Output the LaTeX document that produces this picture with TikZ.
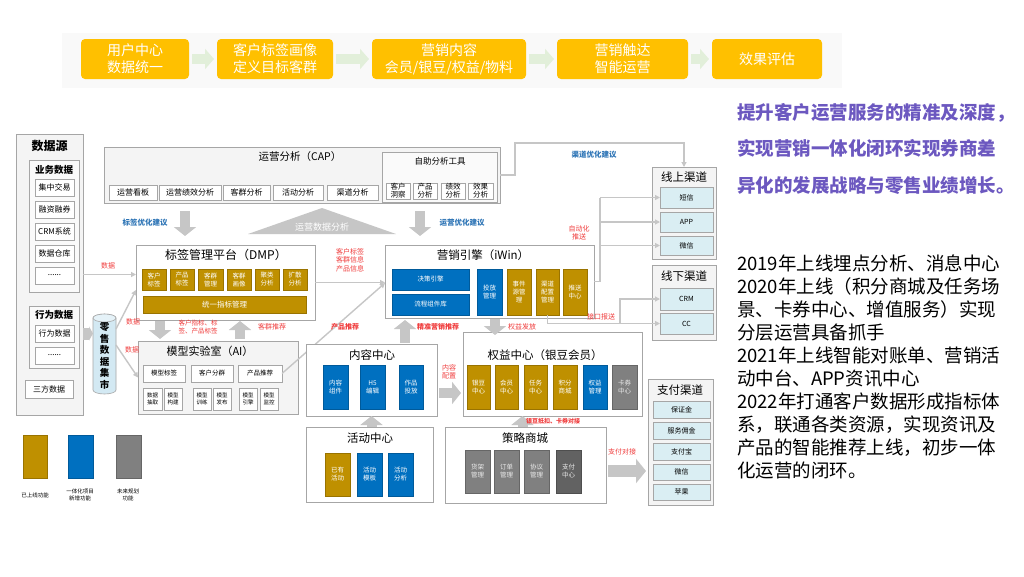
\documentclass[tikz,border=0pt]{standalone}
\usepackage{fontspec}
\setmainfont{Noto Sans CJK SC}
\usetikzlibrary{arrows.meta,calc}
\definecolor{gold}{HTML}{BF9000}
\definecolor{myblue}{HTML}{0070C0}
\definecolor{mygray}{HTML}{808080}
\definecolor{dgray}{HTML}{626262}
\definecolor{chan}{HTML}{DAEEF3}
\definecolor{cylblue}{HTML}{D3E9F3}
\definecolor{bord}{HTML}{A6A6A6}
\definecolor{arr}{HTML}{C6C6C6}
\definecolor{lbred}{HTML}{F03C3C}
\definecolor{lbblue}{HTML}{2E75B6}
\definecolor{purp}{RGB}{108,88,192}
\definecolor{orangebox}{HTML}{FFC000}
\definecolor{lgreen}{HTML}{E2EFDA}
\newcommand\fs[2]{\fontsize{#1}{#2}\selectfont}
\newcommand\mybox[7]{\node[#6,minimum width={(#4-#2)*1pt},minimum height={(#5-#3)*1pt}] (#1) at ({(#2+#4)/2},{(#3+#5)/2}) {#7};}
\begin{document}
\begin{tikzpicture}[x=1pt,y=-1pt,
 every node/.style={inner sep=0pt,outer sep=0pt,align=center},
 pan/.style={draw=bord,fill=white,line width=0.6pt},
 gpan/.style={draw=bord,fill=gray!9,line width=0.6pt},
 sub/.style={draw=bord,fill=white,line width=0.5pt,font=\fs{8}{9.5}},
 goldbox/.style={draw=gold!80!black,fill=gold,text=white,line width=0.4pt,font=\fs{6.5}{8}},
 bluebox/.style={draw=myblue!80!black,fill=myblue,text=white,line width=0.4pt,font=\fs{6.5}{8}},
 graybox/.style={draw=mygray!80!black,fill=mygray,text=white!85!gray,line width=0.4pt,font=\fs{6.5}{8}},
 chanbox/.style={draw=bord,fill=chan,line width=0.5pt,font=\fs{7}{8}},
 topbox/.style={fill=orangebox,rounded corners=4pt,text=white,font=\fs{14}{17}},
 ttl/.style={font=\fs{11.5}{13}},
 rlab/.style={text=lbred,font=\fs{7}{8.5}},
 blab/.style={text=lbblue,font=\fs{7.5}{9}\bfseries},
 ln/.style={draw=arr,line width=1.4pt},
 lna/.style={ln,-{Triangle[length=5pt,width=5pt]}},
 blk/.style={draw=arr,line width=10pt,-{Triangle[length=9pt,width=22pt]}},
 blkS/.style={draw=arr,line width=12pt,-{Triangle[length=4pt,width=14pt]}},
 blkL/.style={draw=arr,line width=12pt,-{Triangle[length=10pt,width=24pt]}},
 toparr/.style={draw=lgreen,line width=10pt,-{Triangle[length=9pt,width=20pt]}},
]
\fill[white] (0,0) rectangle (1024,576);
\useasboundingbox (0,0) rectangle (1024,576);

% ---------- top banner ----------
\fill[gray!5] (62,33) rectangle (842,88);
\mybox{t1}{81}{39}{189}{79}{topbox}{用户中心\\数据统一}
\mybox{t2}{217}{39}{333}{79}{topbox}{客户标签画像\\定义目标客群}
\mybox{t3}{372}{39}{526}{79}{topbox}{营销内容\\会员/银豆/权益/物料}
\mybox{t4}{557}{39}{688}{79}{topbox}{营销触达\\智能运营}
\mybox{t5}{712}{39}{822}{79}{topbox}{效果评估}
\draw[toparr] ([xshift=3pt]t1.east) -- ([xshift=-3pt]t2.west);
\draw[toparr] ([xshift=3pt]t2.east) -- ([xshift=-3pt]t3.west);
\draw[toparr] ([xshift=3pt]t3.east) -- ([xshift=-3pt]t4.west);
\draw[toparr] ([xshift=3pt]t4.east) -- ([xshift=-3pt]t5.west);

% ---------- right text ----------
\node[anchor=base west,font=\fs{18.5}{22}\bfseries,text=purp] (p1) at (737,119) {提升客户运营服务的精准及深度，};
\node[anchor=base west,font=\fs{18.5}{22}\bfseries,text=purp] (p2) at (737,155) {实现营销一体化闭环实现券商差};
\node[anchor=base west,font=\fs{18.5}{22}\bfseries,text=purp] (p3) at (737,192) {异化的发展战略与零售业绩增长。};
\foreach \t [count=\i] in {2019年上线埋点分析、消息中心,2020年上线（积分商城及任务场,景、卡券中心、增值服务）实现,分层运营具备抓手,2021年上线智能对账单、营销活,动中台、APP资讯中心,2022年打通客户数据形成指标体,系，联通各类资源，实现资讯及,产品的智能推荐上线，初步一体,化运营的闭环。}
  \node[anchor=base west,font=\fs{18.5}{22}] (r\i) at (737,{270+(\i-1)*23}) {\t};

% ---------- data sources ----------
\mybox{src}{16}{134}{83}{415}{gpan}{}
\node[font=\fs{12}{14}\bfseries] (srct) at (49.5,146) {数据源};
\mybox{biz}{29}{160}{79}{292}{pan,fill=gray!4}{}
\node[font=\fs{9.5}{11}\bfseries] (bizt) at (54,170) {业务数据};
\mybox{b1}{35}{179}{74}{196}{sub}{集中交易}
\mybox{b2}{35}{201}{74}{218}{sub}{融资融券}
\mybox{b3}{35}{223}{74}{240}{sub}{CRM系统}
\mybox{b4}{35}{245}{74}{262}{sub}{数据仓库}
\mybox{b5}{35}{267}{74}{284}{sub}{......}
\mybox{beh}{29}{306}{79}{368}{pan,fill=gray!4}{}
\node[font=\fs{9.5}{11}\bfseries] (beht) at (54,315) {行为数据};
\mybox{h1}{35}{325}{74}{342}{sub}{行为数据}
\mybox{h2}{35}{347}{74}{364}{sub}{......}
\mybox{b6}{25}{380}{73}{398}{sub}{三方数据}

% cylinder
\path[draw=bord,fill=cylblue,line width=0.6pt] (93,318) -- (93,390) arc[start angle=180,end angle=360,x radius=11.5pt,y radius=4pt] -- (116,318) arc[start angle=0,end angle=180,x radius=11.5pt,y radius=4pt] -- cycle;
\draw[draw=bord,fill=cylblue!60,line width=0.6pt] (104.5,318) ellipse[x radius=11.5pt,y radius=4pt];
\node[minimum width=23pt,minimum height=72pt,font=\fs{9.5}{11.5}\bfseries] (mart) at (104.5,356) {零\\售\\数\\据\\集\\市};

% ---------- CAP ----------
\mybox{cap}{104}{147}{500}{203}{gpan}{}
\node[font=\fs{10.5}{12}] (capt) at (300,157) {运营分析（CAP）};
\mybox{c1}{109}{185}{157}{200}{sub}{运营看板}
\mybox{c2}{159}{185}{221}{200}{sub}{运营绩效分析}
\mybox{c3}{223}{185}{270}{200}{sub}{客群分析}
\mybox{c4}{273}{185}{323}{200}{sub}{活动分析}
\mybox{c5}{327}{185}{378}{200}{sub}{渠道分析}
\mybox{zz}{382}{152}{497}{202}{pan,fill=gray!4}{}
\node[font=\fs{8.5}{10}] (zzt) at (440,161) {自助分析工具};
\mybox{s1}{386}{183}{410}{199}{sub,font=\fs{7.5}{8}}{客户\\洞察}
\mybox{s2}{413}{183}{437}{199}{sub,font=\fs{7.5}{8}}{产品\\分析}
\mybox{s3}{441}{183}{465}{199}{sub,font=\fs{7.5}{8}}{绩效\\分析}
\mybox{s4}{468}{183}{493}{199}{sub,font=\fs{7.5}{8}}{效果\\分析}

% ---------- DMP ----------
\mybox{dmp}{136}{245}{315}{320}{pan}{}
\node[font=\fs{12}{14}] (dmpt) at (226,255) {标签管理平台（DMP）};
\mybox{d1}{142}{269}{166}{290}{goldbox}{客户\\标签}
\mybox{d2}{170}{269}{194}{290}{goldbox}{产品\\标签}
\mybox{d3}{198}{269}{223}{290}{goldbox}{客群\\管理}
\mybox{d4}{227}{269}{251}{290}{goldbox}{客群\\画像}
\mybox{d5}{255}{269}{279}{290}{goldbox}{聚类\\分析}
\mybox{d6}{283}{269}{307}{290}{goldbox}{扩散\\分析}
\mybox{d7}{143}{296}{306}{313}{goldbox,font=\fs{7.5}{9}}{统一指标管理}

% ---------- AI ----------
\mybox{ai}{138}{341}{298}{414}{gpan}{}
\node[font=\fs{11}{13}] (ait) at (210,351) {模型实验室（AI）};
\mybox{a1}{143}{365}{185}{382}{sub,font=\fs{6.5}{8}}{模型标签}
\mybox{a2}{191}{365}{233}{382}{sub,font=\fs{6.5}{8}}{客户分群}
\mybox{a3}{238}{365}{282}{382}{sub,font=\fs{6.5}{8}}{产品推荐}
\mybox{a4}{143}{388}{162}{410}{sub,font=\fs{5.5}{7}}{数据\\抽取}
\mybox{a5}{164}{388}{182}{410}{sub,font=\fs{5.5}{7}}{模型\\构建}
\mybox{a6}{193}{388}{211}{410}{sub,font=\fs{5.5}{7}}{模型\\训练}
\mybox{a7}{213}{388}{231}{410}{sub,font=\fs{5.5}{7}}{模型\\发布}
\mybox{a8}{239}{388}{257}{410}{sub,font=\fs{5.5}{7}}{模型\\引擎}
\mybox{a9}{260}{388}{278}{410}{sub,font=\fs{5.5}{7}}{模型\\监控}

% ---------- iWin ----------
\mybox{iwin}{385}{245}{594}{318}{pan}{}
\node[font=\fs{11.5}{13}] (iwint) at (483,255) {营销引擎（iWin）};
\mybox{i1}{392}{269}{469}{290}{bluebox}{决策引擎}
\mybox{i2}{392}{294}{469}{315}{bluebox}{流程组件库}
\mybox{i3}{477}{269}{502}{315}{bluebox}{投放\\管理}
\mybox{i4}{507}{269}{531}{315}{goldbox}{事件\\源管\\理}
\mybox{i5}{536}{269}{559}{315}{goldbox}{渠道\\配置\\管理}
\mybox{i6}{563}{269}{587}{315}{goldbox}{推送\\中心}

% product recommendation line (behind content centre)
\draw[lna] (a3.east) -- ($(iwin.south west)+(0,-35)$);
\node[rlab,font=\fs{7}{8.5}\bfseries] (l7) at (345,327) {产品推荐};

% ---------- content / activity ----------
\mybox{nr}{306}{344}{437}{416}{pan}{}
\node[ttl] (nrt) at (372,355) {内容中心};
\mybox{n1}{323}{365}{348}{409}{bluebox}{内容\\组件}
\mybox{n2}{360}{365}{385}{409}{bluebox}{H5\\编辑}
\mybox{n3}{399}{365}{423}{409}{bluebox}{作品\\投放}
\mybox{hd}{306}{427}{433}{502}{pan}{}
\node[ttl] (hdt) at (370,438) {活动中心};
\mybox{h5}{325}{453}{350}{496}{goldbox}{已有\\活动}
\mybox{h6}{357}{453}{382}{496}{bluebox}{活动\\模板}
\mybox{h7}{388}{453}{413}{496}{bluebox}{活动\\分析}

% ---------- benefits / mall ----------
\mybox{qy}{463}{332}{642}{416}{pan}{}
\node[ttl] (qyt) at (545,355) {权益中心（银豆会员）};
\mybox{q1}{467}{365}{490}{409}{goldbox}{银豆\\中心}
\mybox{q2}{495}{365}{518}{409}{goldbox}{会员\\中心}
\mybox{q3}{524}{365}{547}{409}{goldbox}{任务\\中心}
\mybox{q4}{553}{365}{577}{409}{goldbox}{积分\\商城}
\mybox{q5}{583}{365}{607}{409}{bluebox}{权益\\管理}
\mybox{q6}{612}{365}{637}{409}{graybox}{卡券\\中心}
\mybox{cs}{445}{427}{606}{503}{pan}{}
\node[ttl] (cst) at (525,438) {策略商城};
\mybox{m1}{465}{450}{490}{493}{graybox}{货架\\管理}
\mybox{m2}{494}{450}{519}{493}{graybox}{订单\\管理}
\mybox{m3}{524}{450}{549}{493}{graybox}{协议\\管理}
\mybox{m4}{556}{450}{581}{493}{graybox,fill=dgray,draw=dgray!80!black}{支付\\中心}

% ---------- channels ----------
\mybox{online}{652}{167}{716}{259}{gpan}{}
\node[ttl] (onlinet) at (684,177) {线上渠道};
\mybox{on1}{660}{187}{713}{208}{chanbox}{短信}
\mybox{on2}{660}{212}{713}{232}{chanbox}{APP}
\mybox{on3}{660}{236}{713}{255}{chanbox}{微信}
\mybox{offline}{652}{265}{716}{340}{gpan}{}
\node[ttl] (offlinet) at (684,276) {线下渠道};
\mybox{crm}{660}{288}{713}{310}{chanbox}{CRM}
\mybox{cc}{660}{313}{713}{334}{chanbox}{CC}
\mybox{pay}{648}{379}{713}{505}{gpan}{}
\node[ttl] (payt) at (680,390) {支付渠道};
\mybox{y1}{653}{401}{710}{418}{chanbox}{保证金}
\mybox{y2}{653}{422}{710}{439}{chanbox}{服务佣金}
\mybox{y3}{653}{443}{710}{460}{chanbox}{支付宝}
\mybox{y4}{653}{464}{710}{480}{chanbox}{微信}
\mybox{y5}{653}{484}{710}{500}{chanbox}{苹果}

% ---------- connectors ----------
\draw[lna] (src.east) -- (dmp.west |- src.east);
\node[rlab] (l1) at (108,266) {数据};
\draw[blkS] (src.east |- h1) -- (mart.west |- h1);
\draw[lna] ($(mart.east)+(0,-27)$) -- ($(dmp.south west)+(0,-30)$);
\draw[lna] ($(mart.east)+(0,-11)$) -- (ai.west);
\node[rlab] (l2) at (133,322) {数据};
\node[rlab] (l3) at (132,350) {数据};

\draw[blk] ($(cap.south west)+(81,8)$) -- ($(dmp.north west)+(49,-9)$);
\node[blab] (l5) at (145,223) {标签优化建议};
\draw[blk] ($(cap.south west)+(316,8)$) -- ($(iwin.north west)+(35,-9)$);
\node[blab] (l6) at (462,223) {运营优化建议};
\fill[arr] (248,234) -- (322,208) -- (396,234) -- cycle;
\node[font=\fs{9}{10},text=white] (tri) at (322,227) {运营数据分析};

\draw[blk] ($(dmp.south west)+(24,1)$) -- ($(ai.north west)+(22,-2)$);
\draw[blk] ($(ai.north west)+(102,-2)$) -- ($(dmp.south west)+(104,1)$);
\node[rlab,font=\fs{6.5}{7.5}] (l4) at (198,327) {客户指标、标\\签、产品标签};
\node[rlab] (l8) at (272,327) {客群推荐};

\draw[lna] (dmp.east) -- (iwin.west |- dmp.east);
\node[rlab] (l9) at (350,260) {客户标签\\客群信息\\产品信息};

\draw[blk] ($(nr.north west)+(99,-1)$) -- ($(iwin.south west)+(20,2)$);
\node[rlab,font=\fs{7}{8.5}\bfseries] (l10) at (438,327) {精准营销推荐};
\draw[blk] ($(iwin.south west)+(110,1)$) -- ($(qy.north west)+(32,3)$);
\node[rlab] (l11) at (522,327) {权益发放};

\draw[blk] (nr.south |- hd.north) -- (nr.south);
\coordinate (u2) at ($(cs.north)+(-3,0)$);
\draw[blk] (u2) -- (u2 |- qy.south);
\node[rlab,font=\fs{6}{7}\bfseries] (l12) at (553,421) {银豆抵扣、卡券对接};
\draw[blk] ($(nr.east)+(2,13)$) -- ($(qy.west |- nr.east)+(-2,13)$);
\node[rlab] (l13) at (449,372) {内容\\配置};
\draw[blkL] ($(cs.east)+(2,6)$) -- ($(pay.west |- cs.east)+(-2,6)$);
\node[rlab] (l14) at (622,452) {支付对接};

% CAP -> online channels
\draw[lna] (cap.east) -- ++(15,0) |- ($(online.north)+(0,-24)$) -- (online.north);
\node[blab] (l15) at (594,155) {渠道优化建议};
% iWin -> online items
\coordinate (ap) at ($(iwin.east)+(6,0)$);
\draw[ln] (iwin.east) -- (ap) -- (ap |- on1.west);
\draw[lna] (ap |- on1.west) -- (on1.west);
\draw[lna] (ap |- on2.west) -- (on2.west);
\draw[lna] (ap |- on3.west) -- (on3.west);
\node[rlab] (l16) at (579,233) {自动化\\推送};
% iWin -> offline
\draw[lna] (i5.south) |- (cc.west);
\draw[lna] ($(cc.west)+(-40,0)$) |- (crm.west);
\node[rlab] (l17) at (601,317) {接口报送};

% ---------- legend ----------
\mybox{g1}{23}{435}{47}{478}{goldbox}{}
\mybox{g2}{68}{435}{93}{478}{bluebox}{}
\mybox{g3}{116}{435}{141}{478}{graybox}{}
\node[font=\fs{5.5}{6.5}] (g1t) at (35,495) {已上线功能};
\node[font=\fs{5.5}{6.5}] (g2t) at (80,495) {一体化项目\\新增功能};
\node[font=\fs{5.5}{6.5}] (g3t) at (128,495) {未来规划\\功能};
\end{tikzpicture}
\end{document}
